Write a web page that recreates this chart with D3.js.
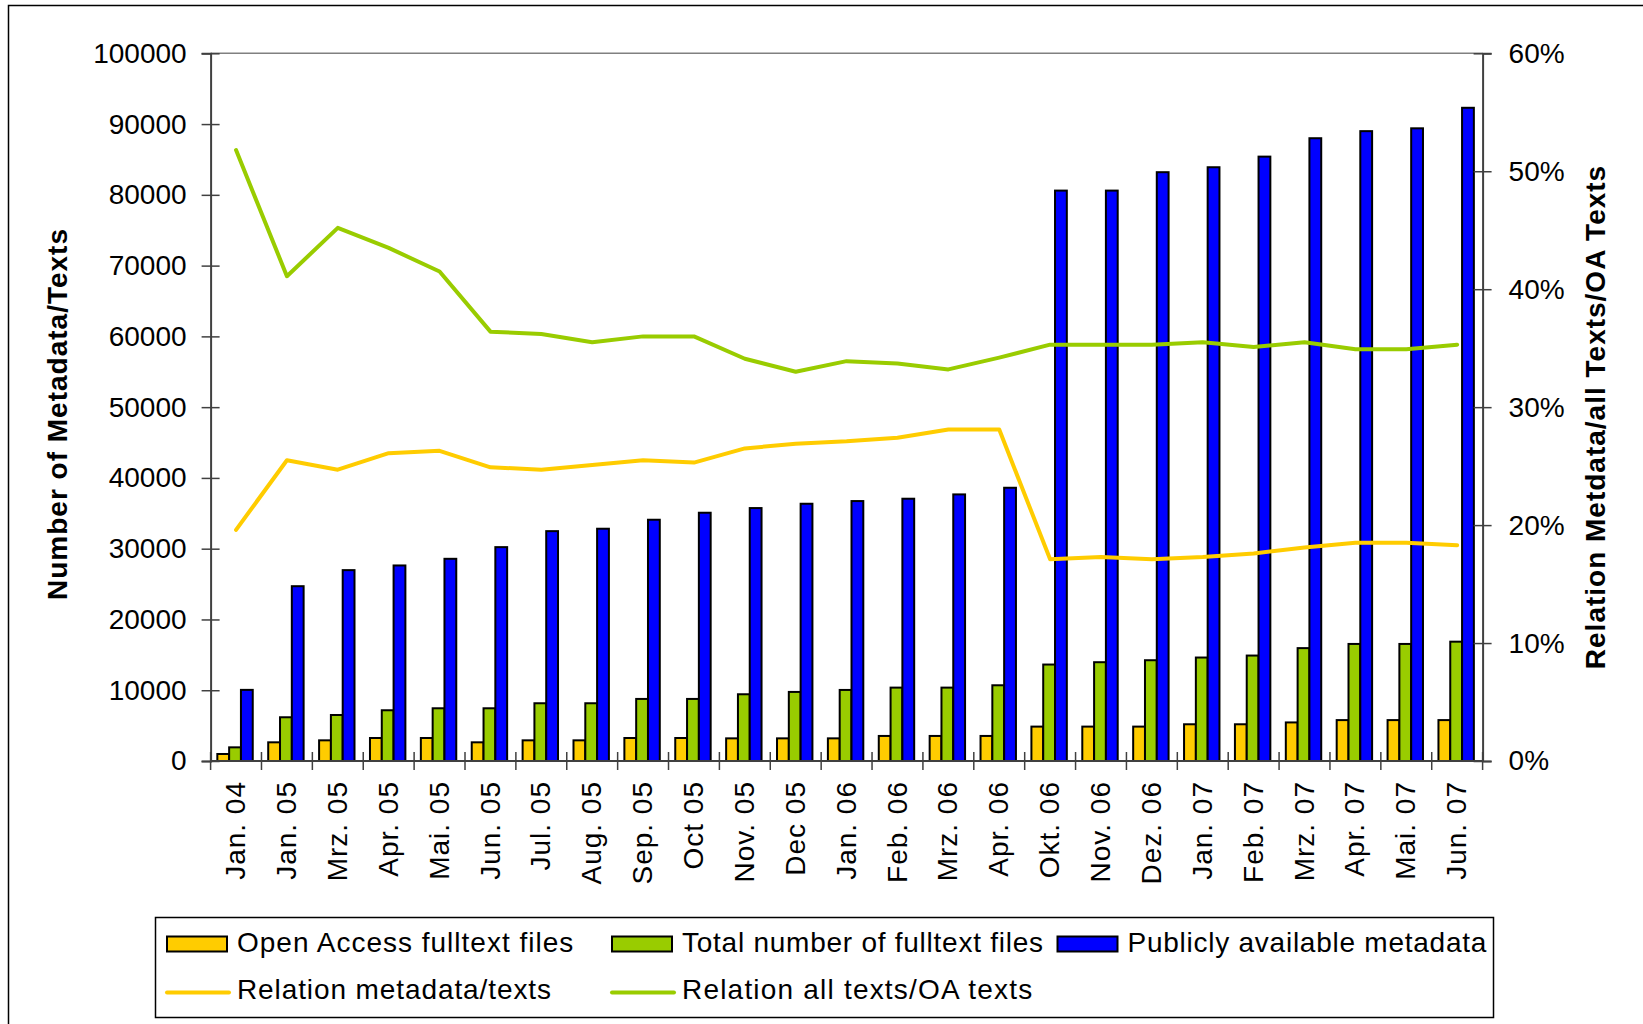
<!DOCTYPE html>
<html>
<head>
<meta charset="utf-8">
<script src="https://cdn.jsdelivr.net/npm/d3@7"></script>
<style>
  html, body { margin: 0; padding: 0; background: #fff; }
  svg { display: block; font-family: "Liberation Sans", Arial, sans-serif; }
</style>
</head>
<body>
<svg id="chart" width="1643" height="1024"></svg>
<script>
const categories = ["Jan. 04","Jan. 05","Mrz. 05","Apr. 05","Mai. 05","Jun. 05","Jul. 05","Aug. 05","Sep. 05","Oct 05","Nov. 05","Dec 05","Jan. 06","Feb. 06","Mrz. 06","Apr. 06","Okt. 06","Nov. 06","Dez. 06","Jan. 07","Feb. 07","Mrz. 07","Apr. 07","Mai. 07","Jun. 07"];
const openAccess = [990,2640,2920,3250,3250,2640,2920,2920,3250,3250,3200,3200,3200,3540,3540,3540,4860,4860,4860,5190,5190,5450,5780,5780,5780];
const totalFulltext = [1930,6180,6500,7170,7450,7450,8160,8160,8770,8770,9430,9760,10040,10370,10370,10700,13630,13960,14240,14620,14900,15950,16540,16540,16860];
const metadata = [10050,24700,26970,27630,28570,30220,32480,32820,34090,35080,35740,36350,36730,37060,37670,38610,80600,80600,83200,83900,85400,88000,89000,89400,92300];
const relMetaTexts = [19.6,25.5,24.7,26.1,26.3,24.9,24.7,25.1,25.5,25.3,26.5,26.9,27.1,27.4,28.1,28.1,17.1,17.3,17.1,17.3,17.6,18.1,18.5,18.5,18.3];
const relAllOA = [51.8,41.1,45.2,43.5,41.5,36.4,36.2,35.5,36.0,36.0,34.1,33.0,33.9,33.7,33.2,34.2,35.3,35.3,35.3,35.5,35.1,35.5,34.9,34.9,35.3];
const leftTicks = [0,10000,20000,30000,40000,50000,60000,70000,80000,90000,100000];
const rightTicks = [0,0.1,0.2,0.3,0.4,0.5,0.6];
const barSeries = [
  {name: "Open Access fulltext files", values: openAccess, color: "#FFCC00"},
  {name: "Total number of fulltext files", values: totalFulltext, color: "#99CC00"},
  {name: "Publicly available metadata", values: metadata, color: "#0000FF"}
];
const lineSeries = [
  {name: "Relation metadata/texts", values: relMetaTexts, color: "#FFCC00"},
  {name: "Relation all texts/OA texts", values: relAllOA, color: "#99CC00"}
];
const leftTitle = "Number of Metadata/Texts";
const rightTitle = "Relation Metdata/all Texts/OA Texts";

const svg = d3.select("#chart");
const L = 210.6, R = 1482.6, T = 53.3, B = 761;

// outer frame
svg.append("rect").attr("x", 8.5).attr("y", 5.5).attr("width", 1700).attr("height", 1100)
  .attr("fill", "none").attr("stroke", "#000").attr("stroke-width", 1.5);

const x = d3.scaleBand().domain(categories).range([L, R]).paddingInner(0).paddingOuter(0);
const yL = d3.scaleLinear().domain([0, 100000]).range([B, T]);
const yR = d3.scaleLinear().domain([0, 0.6]).range([B, T]);
const bw = x.bandwidth();
const barW = bw * 0.232;

// top plot border
svg.append("line").attr("x1", L).attr("x2", R).attr("y1", T).attr("y2", T)
  .attr("stroke", "#808080").attr("stroke-width", 1.5);

// bars
barSeries.forEach((s, si) => {
  svg.append("g").selectAll("rect").data(categories).join("rect")
    .attr("x", (c) => x(c) + bw / 2 - 1 - 1.5 * barW + si * barW)
    .attr("y", (c, i) => yL(s.values[i]))
    .attr("width", barW)
    .attr("height", (c, i) => B - yL(s.values[i]))
    .attr("fill", s.color).attr("stroke", "#000").attr("stroke-width", 2);
});

// lines
lineSeries.forEach((s) => {
  const line = d3.line()
    .x((d, i) => x(categories[i]) + bw / 2)
    .y((d) => yR(d / 100));
  svg.append("path").datum(s.values).attr("d", line)
    .attr("fill", "none").attr("stroke", s.color).attr("stroke-width", 4)
    .attr("stroke-linejoin", "round").attr("stroke-linecap", "round");
});

// left axis
const gL = svg.append("g").attr("transform", `translate(${L},0)`)
  .call(d3.axisLeft(yL).tickValues(leftTicks).tickFormat(d3.format("d")).tickSize(9).tickPadding(15));
gL.select(".domain").attr("stroke", "#404040").attr("stroke-width", 2);
gL.selectAll(".tick line").attr("x1", 9).attr("stroke", "#404040").attr("stroke-width", 1.5);
gL.selectAll(".tick text").attr("font-size", 28).attr("fill", "#000")
  .attr("font-family", "'Liberation Sans', Arial, sans-serif");

// right axis
const gR = svg.append("g").attr("transform", `translate(${R},0)`)
  .call(d3.axisRight(yR).tickValues(rightTicks).tickFormat(d3.format(".0%")).tickSize(9).tickPadding(17));
gR.select(".domain").attr("stroke", "#404040").attr("stroke-width", 2);
gR.selectAll(".tick line").attr("x1", -9).attr("stroke", "#404040").attr("stroke-width", 1.5);
gR.selectAll(".tick text").attr("font-size", 28).attr("fill", "#000")
  .attr("font-family", "'Liberation Sans', Arial, sans-serif");

// bottom axis
const gB = svg.append("g");
gB.append("line").attr("x1", L).attr("x2", R).attr("y1", B).attr("y2", B)
  .attr("stroke", "#404040").attr("stroke-width", 2);
const bounds = categories.map((c) => x(c)).concat([R]);
gB.selectAll("line.tk").data(bounds).join("line").attr("class", "tk")
  .attr("x1", (d) => d).attr("x2", (d) => d).attr("y1", B - 9).attr("y2", B + 9)
  .attr("stroke", "#404040").attr("stroke-width", 1.5);
gB.selectAll("text").data(categories).join("text")
  .attr("transform", (c) => `translate(${x(c) + bw / 2 - 1},781) rotate(-90)`)
  .attr("text-anchor", "end").attr("dy", "0.36em")
  .attr("font-size", 28).attr("letter-spacing", 1).attr("fill", "#000")
  .text((c) => c);

// axis titles
svg.append("text").attr("transform", "translate(57,414) rotate(-90)")
  .attr("text-anchor", "middle").attr("dy", "0.36em")
  .attr("font-size", 28).attr("font-weight", "bold").attr("letter-spacing", 1)
  .text(leftTitle);
svg.append("text").attr("transform", "translate(1595,417) rotate(-90)")
  .attr("text-anchor", "middle").attr("dy", "0.36em")
  .attr("font-size", 28).attr("font-weight", "bold").attr("letter-spacing", 1)
  .text(rightTitle);

// legend
const lg = svg.append("g");
lg.append("rect").attr("x", 155.5).attr("y", 917.5).attr("width", 1338).attr("height", 100)
  .attr("fill", "#fff").attr("stroke", "#000").attr("stroke-width", 1.5);
const colX = [167, 612, 1057.5];
const legendSpacing = [1.0, 0.75, 0.75];
barSeries.forEach((s, i) => {
  lg.append("rect").attr("x", colX[i]).attr("y", 936.5).attr("width", 60).attr("height", 15)
    .attr("fill", s.color).attr("stroke", "#000").attr("stroke-width", 2);
  lg.append("text").attr("x", colX[i] + 70).attr("y", 952)
    .attr("font-size", 28).attr("letter-spacing", legendSpacing[i]).text(s.name);
});
lineSeries.forEach((s, i) => {
  lg.append("line").attr("x1", colX[i]).attr("x2", colX[i] + 62).attr("y1", 992.5).attr("y2", 992.5)
    .attr("stroke", s.color).attr("stroke-width", 4).attr("stroke-linecap", "round");
  lg.append("text").attr("x", colX[i] + 70).attr("y", 998.5)
    .attr("font-size", 28).attr("letter-spacing", i === 1 ? 1.2 : 0.9).text(s.name);
});
</script>
</body>
</html>
